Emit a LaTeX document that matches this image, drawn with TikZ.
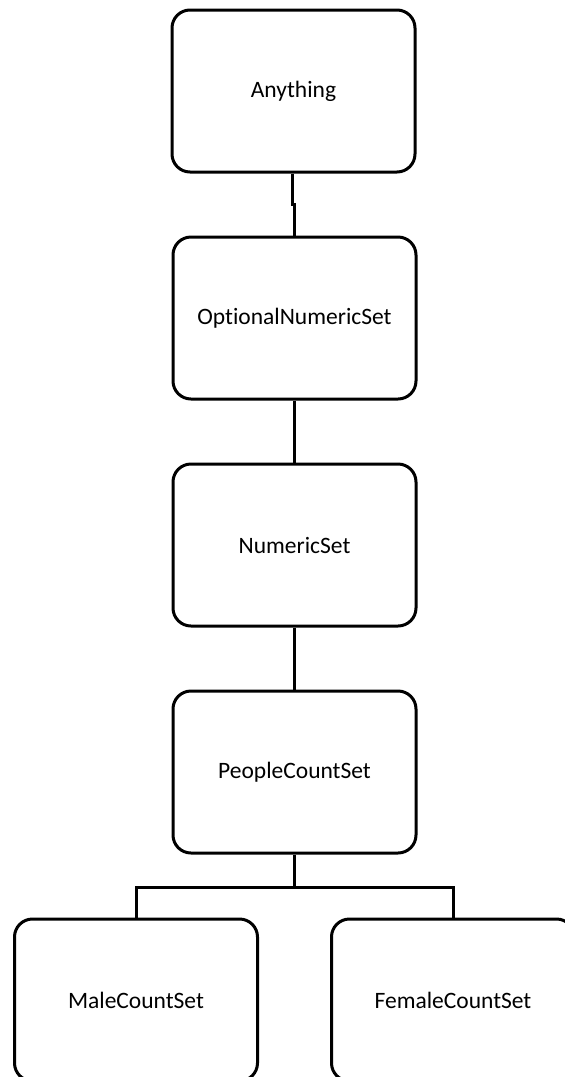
\documentclass[tikz,border=0pt]{standalone}
\usepackage{fontspec}
\setmainfont{Carlito}[Ligatures=NoCommon]
\begin{document}
\begin{tikzpicture}[x=1pt,y=-1pt,
  box/.style={draw=black, line width=3pt, rounded corners=18pt,
    minimum width=243pt, minimum height=162pt, inner sep=0pt,
    font=\fontsize{23.5}{28}\selectfont},
  link/.style={draw=black, line width=3pt}]
  \useasboundingbox (0,0) rectangle (565,1077);
  \clip (0,0) rectangle (565,1077);

  \node[box] (anything) at (293.5,91)  {Anything};
  \node[box] (optional) at (294.5,318) {OptionalNumericSet};
  \node[box] (numeric)  at (294.5,545) {NumericSet};
  \node[box] (people)   at (294.5,772) {PeopleCountSet};
  \node[box] (male)     at (136,1000)  {MaleCountSet};
  \node[box] (female)   at (453,1000)  {FemaleCountSet};

  % small kink in the first link
  \coordinate (kinkA) at (292.5,204);
  \coordinate (kinkB) at (294.3,204);
  \draw[link] (anything.south -| kinkA) -- (kinkA) -- (kinkB) -- (optional.north -| kinkB);
  \draw[link] (optional.south) -- (numeric.north);
  \draw[link] (numeric.south) -- (people.north);

  % split into the two subsets
  \coordinate (bus) at (294,887);
  \draw[link] (people.south -| bus) -- (bus);
  \draw[link] (male.north) |- (bus) -| (female.north);
\end{tikzpicture}
\end{document}
